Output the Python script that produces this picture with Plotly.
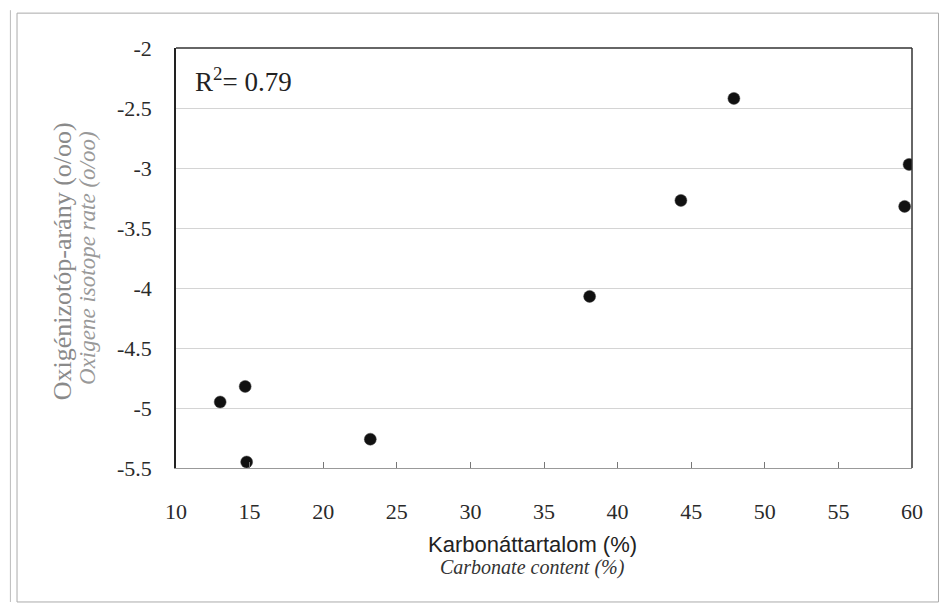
import plotly.graph_objects as go

# Data
carbonate_pct = [13.0, 14.7, 14.8, 23.2, 38.1, 44.3, 47.9, 59.5, 59.8]
oxygen_isotope = [-4.95, -4.82, -5.45, -5.26, -4.07, -3.27, -2.42, -3.32, -2.97]
x_ticks = [10, 15, 20, 25, 30, 35, 40, 45, 50, 55, 60]
y_ticks = [-2, -2.5, -3, -3.5, -4, -4.5, -5, -5.5]
y_tick_text = ["-2", "-2.5", "-3", "-3.5", "-4", "-4.5", "-5", "-5.5"]
r2_text = "R<sup>2</sup>= 0.79"
x_title = "Karbonáttartalom (%)"
x_subtitle = "Carbonate content (%)"
y_title = "Oxigénizotóp-arány (o/oo)"
y_subtitle = "Oxigene isotope rate (o/oo)"

SERIF = "Liberation Serif"
SANS = "Liberation Sans"

fig = go.Figure()
fig.add_trace(go.Scatter(
    x=carbonate_pct, y=oxygen_isotope, mode="markers",
    marker=dict(color="#111111", size=12, line=dict(color="#444", width=0.5)),
    showlegend=False, hoverinfo="x+y",
))

fig.update_layout(
    width=941, height=606,
    margin=dict(l=176, r=29, t=48, b=138),
    paper_bgcolor="white", plot_bgcolor="white",
    font=dict(family=SERIF, size=21, color="#333"),
    xaxis=dict(
        range=[10, 60], tickmode="array", tickvals=x_ticks,
        ticks="inside", ticklen=6, tickcolor="#777", tickwidth=1,
        showline=True, linecolor="#999", linewidth=1,
        showgrid=False, zeroline=False,
        tickfont=dict(family=SERIF, size=22, color="#2a2a2a"),
        ticklabelstandoff=24,
    ),
    yaxis=dict(
        range=[-5.5, -2], tickmode="array", tickvals=y_ticks, ticktext=y_tick_text,
        ticks="", showline=True, linecolor="#222", linewidth=1.5,
        showgrid=True, gridcolor="#d4d4d4", gridwidth=1, zeroline=False,
        tickfont=dict(family=SERIF, size=22, color="#2a2a2a"),
        ticklabelstandoff=18,
    ),
    shapes=[
        # top and right plot borders
        dict(type="line", xref="x domain", yref="y domain", x0=0, x1=1, y0=1, y1=1,
             line=dict(color="#333", width=1.5)),
        dict(type="line", xref="x domain", yref="y domain", x0=1, x1=1, y0=0, y1=1,
             line=dict(color="#333", width=1.5)),
        # outer frame of the figure
        dict(type="rect", xref="paper", yref="paper", x0=-0.216, x1=1.036, y0=-0.319, y1=1.083,
             line=dict(color="#aaa", width=1), fillcolor="rgba(0,0,0,0)", layer="below"),
        dict(type="line", xref="paper", yref="paper", x0=-0.225, x1=-0.225, y0=-0.319, y1=1.09,
             line=dict(color="#bbb", width=1)),
    ],
    annotations=[
        dict(text=r2_text, xref="paper", yref="paper", x=0.023, y=0.924,
             xanchor="left", yanchor="middle", showarrow=False,
             font=dict(family=SERIF, size=27, color="#222")),
        dict(text=x_title, xref="paper", yref="paper", x=0.485, y=-0.183,
             xanchor="center", yanchor="middle", showarrow=False,
             font=dict(family=SANS, size=22, color="#222")),
        dict(text="<i>" + x_subtitle + "</i>", xref="paper", yref="paper", x=0.485, y=-0.238,
             xanchor="center", yanchor="middle", showarrow=False,
             font=dict(family=SERIF, size=20, color="#333")),
        dict(text=y_title, xref="paper", yref="paper", x=-0.155, y=0.492,
             xanchor="center", yanchor="middle", showarrow=False, textangle=-90,
             font=dict(family=SERIF, size=26, color="#8a8a8a")),
        dict(text="<i>" + y_subtitle + "</i>", xref="paper", yref="paper", x=-0.121, y=0.5,
             xanchor="center", yanchor="middle", showarrow=False, textangle=-90,
             font=dict(family=SERIF, size=23, color="#999")),
    ],
)

fig.write_html("out.html", config={"displayModeBar": False},
               post_script="document.body.style.margin='0';")
